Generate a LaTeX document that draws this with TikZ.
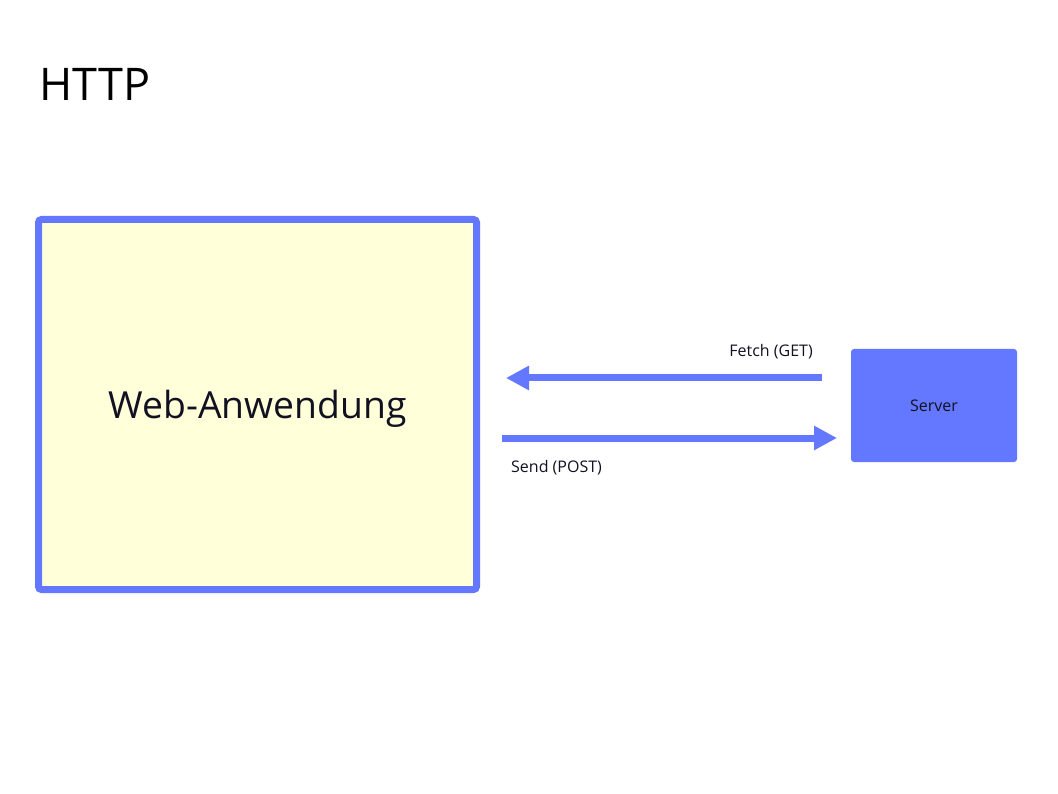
\documentclass[tikz,border=0pt]{standalone}
\usepackage{fontspec}
\setmainfont{Open Sans}
\usetikzlibrary{arrows.meta, positioning}

\definecolor{httpblue}{RGB}{100,120,255}
\definecolor{appyellow}{RGB}{255,255,217}
\definecolor{inktext}{RGB}{17,17,34}

\begin{document}
\begin{tikzpicture}[
    x=1pt, y=-1pt,
    app-box/.style={draw=httpblue, line width=7pt, fill=appyellow, rounded corners=3pt,
      minimum width=438pt, minimum height=370pt, inner sep=0pt, text=inktext, font=\fontsize{37.3}{44}\selectfont},
    srv-box/.style={fill=httpblue, rounded corners=3pt, minimum width=166pt, minimum height=113pt,
      inner sep=0pt, outer sep=0pt, text=inktext, font=\fontsize{16}{19}\selectfont},
    req-arr/.style={draw=httpblue, line width=7pt, -{Triangle[length=23pt, width=23pt]}},
    req-lbl/.style={text=inktext, font=\fontsize{16}{19}\selectfont, inner sep=0pt}
  ]

  \useasboundingbox (0,0) rectangle (1058,794);

  \node[anchor=base west, inner sep=0pt, font=\fontsize{45}{52}\selectfont] (title) at (39,101) {HTTP};

  \node[app-box] (app) at (257.5,404.5) {\raisebox{-13.5pt}[0pt][0pt]{Web-Anwendung}};
  \node[srv-box] (srv) at (934,405.5) {Server};

  % GET: server -> app, POST: app -> server
  \draw[req-arr, shorten <=29pt, shorten >=26pt] ([yshift=27.5pt]srv.west) -- ([yshift=26.5pt]app.east);
  \draw[req-arr, shorten <=22pt, shorten >=14pt] ([yshift=-33.5pt]app.east) -- ([yshift=-32.5pt]srv.west);

  \node[req-lbl, anchor=base east] (get-lbl) at (813,356) {Fetch (GET)};
  \node[req-lbl, anchor=base west] (post-lbl) at (511,472) {Send (POST)};

\end{tikzpicture}
\end{document}
